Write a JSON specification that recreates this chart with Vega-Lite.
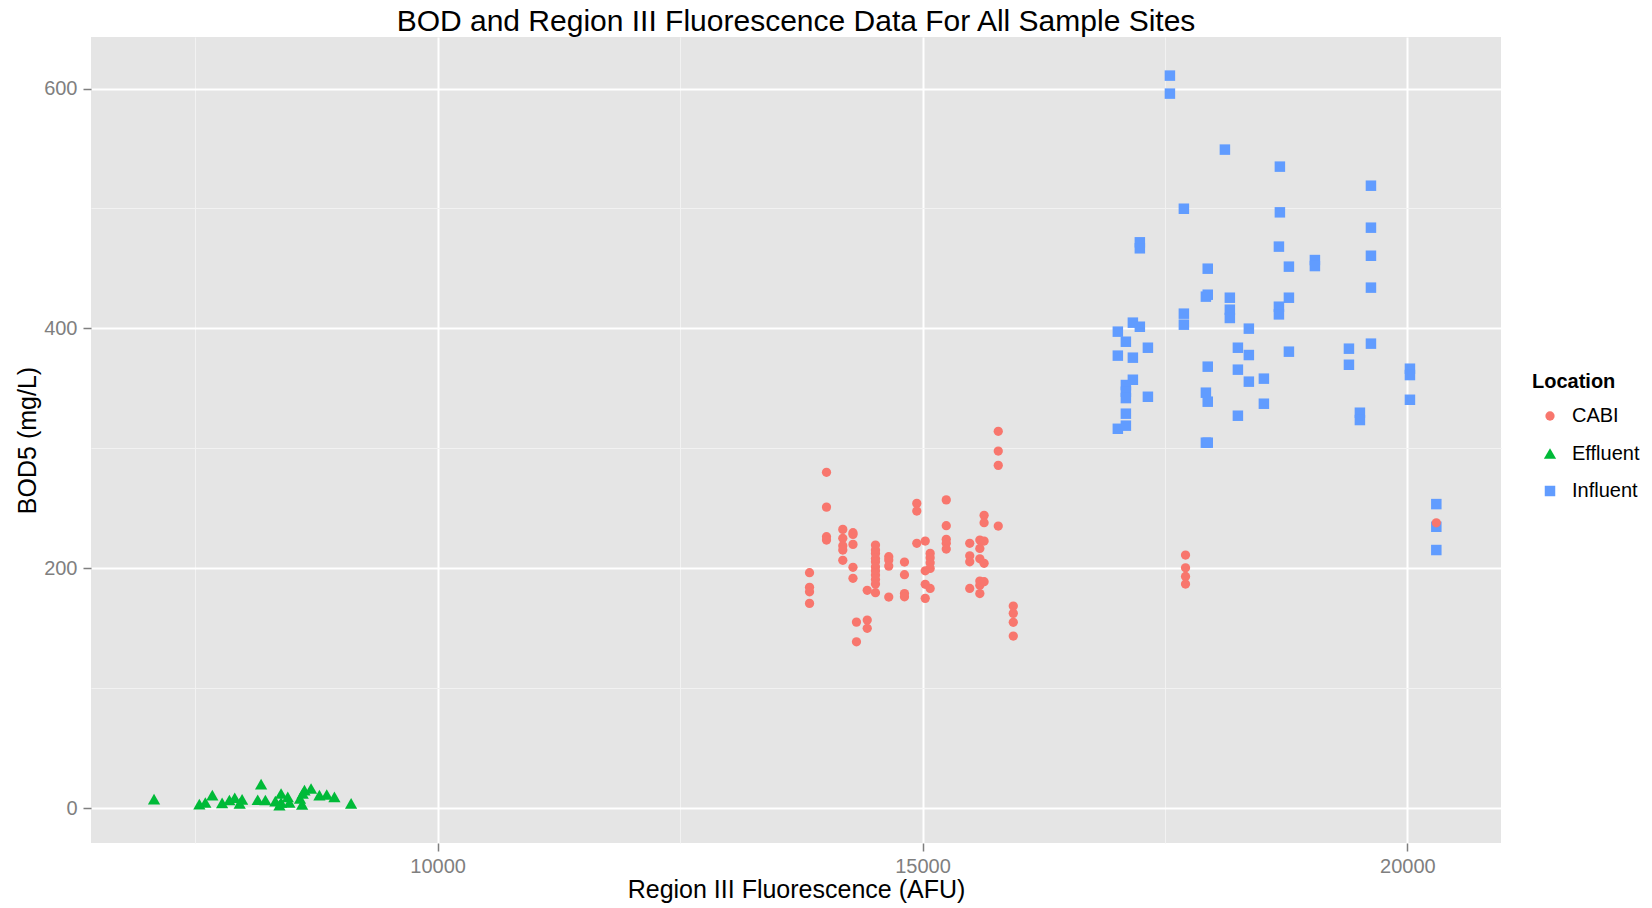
{
  "$schema": "https://vega.github.io/schema/vega-lite/v6.json",
  "autosize": {"type": "none"},
  "padding": {"left": 91, "top": 37, "right": 151, "bottom": 65},
  "width": 1410,
  "height": 806,
  "background": "white",
  "title": {
    "text": "BOD and Region III Fluorescence Data For All Sample Sites",
    "font": "Liberation Sans",
    "fontSize": 30,
    "fontWeight": "normal",
    "color": "black",
    "anchor": "middle",
    "baseline": "alphabetic",
    "offset": 4,
    "dy": 28
  },
  "config": {
    "view": {"fill": "#E5E5E5", "stroke": null},
    "font": "Liberation Sans",
    "axis": {
      "domain": false,
      "labelFont": "Liberation Sans",
      "labelFontSize": 20,
      "labelColor": "#7F7F7F",
      "tickColor": "#7F7F7F",
      "tickSize": 8,
      "tickWidth": 1.5,
      "titleFont": "Liberation Sans",
      "titleFontSize": 25,
      "titleFontWeight": "normal",
      "titleColor": "black"
    },
    "legend": {
      "titleFont": "Liberation Sans",
      "titleFontSize": 20,
      "titleFontWeight": "bold",
      "titleColor": "black",
      "labelFont": "Liberation Sans",
      "labelFontSize": 20,
      "labelColor": "black"
    }
  },
  "datasets": {
    "pts": [
      {"fluor": 17551, "bod": 610.8, "Location": "Influent"},
      {"fluor": 17551, "bod": 595.8, "Location": "Influent"},
      {"fluor": 18118, "bod": 549.1, "Location": "Influent"},
      {"fluor": 18685, "bod": 534.9, "Location": "Influent"},
      {"fluor": 19624, "bod": 519.0, "Location": "Influent"},
      {"fluor": 17695, "bod": 499.8, "Location": "Influent"},
      {"fluor": 18685, "bod": 496.8, "Location": "Influent"},
      {"fluor": 17241, "bod": 471.8, "Location": "Influent"},
      {"fluor": 17241, "bod": 466.8, "Location": "Influent"},
      {"fluor": 18675, "bod": 468.2, "Location": "Influent"},
      {"fluor": 19624, "bod": 484.0, "Location": "Influent"},
      {"fluor": 19624, "bod": 460.6, "Location": "Influent"},
      {"fluor": 18778, "bod": 451.5, "Location": "Influent"},
      {"fluor": 19046, "bod": 457.0, "Location": "Influent"},
      {"fluor": 19046, "bod": 452.0, "Location": "Influent"},
      {"fluor": 17941, "bod": 449.8, "Location": "Influent"},
      {"fluor": 19624, "bod": 434.0, "Location": "Influent"},
      {"fluor": 17922, "bod": 426.5, "Location": "Influent"},
      {"fluor": 17941, "bod": 428.1, "Location": "Influent"},
      {"fluor": 18169, "bod": 425.6, "Location": "Influent"},
      {"fluor": 18169, "bod": 415.6, "Location": "Influent"},
      {"fluor": 18169, "bod": 408.7, "Location": "Influent"},
      {"fluor": 18778, "bod": 425.6, "Location": "Influent"},
      {"fluor": 18675, "bod": 418.1, "Location": "Influent"},
      {"fluor": 18675, "bod": 411.7, "Location": "Influent"},
      {"fluor": 17695, "bod": 412.3, "Location": "Influent"},
      {"fluor": 17695, "bod": 403.1, "Location": "Influent"},
      {"fluor": 17169, "bod": 404.8, "Location": "Influent"},
      {"fluor": 17241, "bod": 401.4, "Location": "Influent"},
      {"fluor": 17014, "bod": 397.3, "Location": "Influent"},
      {"fluor": 18365, "bod": 399.8, "Location": "Influent"},
      {"fluor": 17097, "bod": 388.9, "Location": "Influent"},
      {"fluor": 17324, "bod": 383.9, "Location": "Influent"},
      {"fluor": 18252, "bod": 383.9, "Location": "Influent"},
      {"fluor": 18365, "bod": 377.8, "Location": "Influent"},
      {"fluor": 18778, "bod": 380.6, "Location": "Influent"},
      {"fluor": 19397, "bod": 383.1, "Location": "Influent"},
      {"fluor": 19624, "bod": 387.3, "Location": "Influent"},
      {"fluor": 17014, "bod": 377.3, "Location": "Influent"},
      {"fluor": 17169, "bod": 375.6, "Location": "Influent"},
      {"fluor": 17941, "bod": 368.1, "Location": "Influent"},
      {"fluor": 18252, "bod": 365.6, "Location": "Influent"},
      {"fluor": 19397, "bod": 369.7, "Location": "Influent"},
      {"fluor": 20026, "bod": 366.4, "Location": "Influent"},
      {"fluor": 20026, "bod": 361.1, "Location": "Influent"},
      {"fluor": 17169, "bod": 357.2, "Location": "Influent"},
      {"fluor": 17097, "bod": 352.8, "Location": "Influent"},
      {"fluor": 17097, "bod": 347.2, "Location": "Influent"},
      {"fluor": 17097, "bod": 341.9, "Location": "Influent"},
      {"fluor": 18365, "bod": 355.6, "Location": "Influent"},
      {"fluor": 18520, "bod": 358.1, "Location": "Influent"},
      {"fluor": 17324, "bod": 343.0, "Location": "Influent"},
      {"fluor": 17922, "bod": 346.4, "Location": "Influent"},
      {"fluor": 17941, "bod": 338.9, "Location": "Influent"},
      {"fluor": 18520, "bod": 337.2, "Location": "Influent"},
      {"fluor": 20026, "bod": 340.5, "Location": "Influent"},
      {"fluor": 17097, "bod": 328.9, "Location": "Influent"},
      {"fluor": 18252, "bod": 327.2, "Location": "Influent"},
      {"fluor": 19510, "bod": 329.7, "Location": "Influent"},
      {"fluor": 19510, "bod": 323.6, "Location": "Influent"},
      {"fluor": 17097, "bod": 318.9, "Location": "Influent"},
      {"fluor": 17014, "bod": 316.3, "Location": "Influent"},
      {"fluor": 17922, "bod": 304.7, "Location": "Influent"},
      {"fluor": 17941, "bod": 304.7, "Location": "Influent"},
      {"fluor": 20298, "bod": 253.5, "Location": "Influent"},
      {"fluor": 20298, "bod": 234.6, "Location": "Influent"},
      {"fluor": 20298, "bod": 215.2, "Location": "Influent"},
      {"fluor": 7076, "bod": 7.5, "Location": "Effluent"},
      {"fluor": 7543, "bod": 3.3, "Location": "Effluent"},
      {"fluor": 7605, "bod": 4.7, "Location": "Effluent"},
      {"fluor": 7677, "bod": 10.8, "Location": "Effluent"},
      {"fluor": 7778, "bod": 4.4, "Location": "Effluent"},
      {"fluor": 7853, "bod": 6.7, "Location": "Effluent"},
      {"fluor": 7908, "bod": 8.6, "Location": "Effluent"},
      {"fluor": 7984, "bod": 7.3, "Location": "Effluent"},
      {"fluor": 7959, "bod": 3.9, "Location": "Effluent"},
      {"fluor": 8145, "bod": 7.0, "Location": "Effluent"},
      {"fluor": 8180, "bod": 20.0, "Location": "Effluent"},
      {"fluor": 8224, "bod": 6.7, "Location": "Effluent"},
      {"fluor": 8327, "bod": 5.8, "Location": "Effluent"},
      {"fluor": 8386, "bod": 12.2, "Location": "Effluent"},
      {"fluor": 8386, "bod": 4.7, "Location": "Effluent"},
      {"fluor": 8455, "bod": 9.4, "Location": "Effluent"},
      {"fluor": 8472, "bod": 4.7, "Location": "Effluent"},
      {"fluor": 8369, "bod": 2.5, "Location": "Effluent"},
      {"fluor": 8581, "bod": 8.1, "Location": "Effluent"},
      {"fluor": 8609, "bod": 12.2, "Location": "Effluent"},
      {"fluor": 8603, "bod": 3.1, "Location": "Effluent"},
      {"fluor": 8627, "bod": 15.0, "Location": "Effluent"},
      {"fluor": 8695, "bod": 16.4, "Location": "Effluent"},
      {"fluor": 8781, "bod": 10.8, "Location": "Effluent"},
      {"fluor": 8857, "bod": 11.4, "Location": "Effluent"},
      {"fluor": 8936, "bod": 9.4, "Location": "Effluent"},
      {"fluor": 9108, "bod": 3.9, "Location": "Effluent"},
      {"fluor": 13835, "bod": 196.3, "Location": "CABI"},
      {"fluor": 13835, "bod": 184.1, "Location": "CABI"},
      {"fluor": 13835, "bod": 180.4, "Location": "CABI"},
      {"fluor": 13835, "bod": 170.7, "Location": "CABI"},
      {"fluor": 14010, "bod": 280.0, "Location": "CABI"},
      {"fluor": 14010, "bod": 251.0, "Location": "CABI"},
      {"fluor": 14010, "bod": 226.3, "Location": "CABI"},
      {"fluor": 14010, "bod": 223.5, "Location": "CABI"},
      {"fluor": 14178, "bod": 232.4, "Location": "CABI"},
      {"fluor": 14178, "bod": 225.0, "Location": "CABI"},
      {"fluor": 14178, "bod": 218.8, "Location": "CABI"},
      {"fluor": 14178, "bod": 215.2, "Location": "CABI"},
      {"fluor": 14178, "bod": 206.6, "Location": "CABI"},
      {"fluor": 14283, "bod": 229.6, "Location": "CABI"},
      {"fluor": 14283, "bod": 228.2, "Location": "CABI"},
      {"fluor": 14283, "bod": 219.9, "Location": "CABI"},
      {"fluor": 14283, "bod": 200.8, "Location": "CABI"},
      {"fluor": 14283, "bod": 191.6, "Location": "CABI"},
      {"fluor": 14319, "bod": 155.1, "Location": "CABI"},
      {"fluor": 14319, "bod": 138.7, "Location": "CABI"},
      {"fluor": 14430, "bod": 181.6, "Location": "CABI"},
      {"fluor": 14430, "bod": 156.8, "Location": "CABI"},
      {"fluor": 14430, "bod": 149.9, "Location": "CABI"},
      {"fluor": 14515, "bod": 219.3, "Location": "CABI"},
      {"fluor": 14515, "bod": 215.2, "Location": "CABI"},
      {"fluor": 14515, "bod": 212.4, "Location": "CABI"},
      {"fluor": 14515, "bod": 208.2, "Location": "CABI"},
      {"fluor": 14515, "bod": 205.4, "Location": "CABI"},
      {"fluor": 14515, "bod": 201.2, "Location": "CABI"},
      {"fluor": 14515, "bod": 197.9, "Location": "CABI"},
      {"fluor": 14515, "bod": 194.3, "Location": "CABI"},
      {"fluor": 14515, "bod": 190.7, "Location": "CABI"},
      {"fluor": 14515, "bod": 186.8, "Location": "CABI"},
      {"fluor": 14515, "bod": 179.6, "Location": "CABI"},
      {"fluor": 14652, "bod": 209.6, "Location": "CABI"},
      {"fluor": 14652, "bod": 206.8, "Location": "CABI"},
      {"fluor": 14652, "bod": 201.8, "Location": "CABI"},
      {"fluor": 14652, "bod": 176.0, "Location": "CABI"},
      {"fluor": 14814, "bod": 205.2, "Location": "CABI"},
      {"fluor": 14814, "bod": 194.6, "Location": "CABI"},
      {"fluor": 14814, "bod": 178.9, "Location": "CABI"},
      {"fluor": 14814, "bod": 176.2, "Location": "CABI"},
      {"fluor": 14941, "bod": 254.1, "Location": "CABI"},
      {"fluor": 14941, "bod": 247.7, "Location": "CABI"},
      {"fluor": 14941, "bod": 220.8, "Location": "CABI"},
      {"fluor": 15028, "bod": 222.7, "Location": "CABI"},
      {"fluor": 15028, "bod": 197.9, "Location": "CABI"},
      {"fluor": 15028, "bod": 186.6, "Location": "CABI"},
      {"fluor": 15028, "bod": 174.9, "Location": "CABI"},
      {"fluor": 15079, "bod": 212.4, "Location": "CABI"},
      {"fluor": 15079, "bod": 208.8, "Location": "CABI"},
      {"fluor": 15079, "bod": 204.6, "Location": "CABI"},
      {"fluor": 15079, "bod": 199.9, "Location": "CABI"},
      {"fluor": 15079, "bod": 183.2, "Location": "CABI"},
      {"fluor": 15245, "bod": 257.0, "Location": "CABI"},
      {"fluor": 15245, "bod": 235.5, "Location": "CABI"},
      {"fluor": 15245, "bod": 224.1, "Location": "CABI"},
      {"fluor": 15245, "bod": 220.8, "Location": "CABI"},
      {"fluor": 15245, "bod": 216.0, "Location": "CABI"},
      {"fluor": 15487, "bod": 220.8, "Location": "CABI"},
      {"fluor": 15487, "bod": 210.4, "Location": "CABI"},
      {"fluor": 15487, "bod": 205.4, "Location": "CABI"},
      {"fluor": 15487, "bod": 183.2, "Location": "CABI"},
      {"fluor": 15591, "bod": 223.5, "Location": "CABI"},
      {"fluor": 15591, "bod": 216.5, "Location": "CABI"},
      {"fluor": 15591, "bod": 207.9, "Location": "CABI"},
      {"fluor": 15591, "bod": 189.3, "Location": "CABI"},
      {"fluor": 15591, "bod": 185.9, "Location": "CABI"},
      {"fluor": 15591, "bod": 178.9, "Location": "CABI"},
      {"fluor": 15635, "bod": 244.1, "Location": "CABI"},
      {"fluor": 15635, "bod": 238.0, "Location": "CABI"},
      {"fluor": 15635, "bod": 222.7, "Location": "CABI"},
      {"fluor": 15635, "bod": 204.1, "Location": "CABI"},
      {"fluor": 15635, "bod": 188.8, "Location": "CABI"},
      {"fluor": 15781, "bod": 314.2, "Location": "CABI"},
      {"fluor": 15781, "bod": 297.7, "Location": "CABI"},
      {"fluor": 15781, "bod": 285.8, "Location": "CABI"},
      {"fluor": 15781, "bod": 235.2, "Location": "CABI"},
      {"fluor": 15936, "bod": 168.5, "Location": "CABI"},
      {"fluor": 15936, "bod": 162.4, "Location": "CABI"},
      {"fluor": 15936, "bod": 154.9, "Location": "CABI"},
      {"fluor": 15936, "bod": 143.5, "Location": "CABI"},
      {"fluor": 17712, "bod": 211.0, "Location": "CABI"},
      {"fluor": 17712, "bod": 200.4, "Location": "CABI"},
      {"fluor": 17712, "bod": 193.2, "Location": "CABI"},
      {"fluor": 17712, "bod": 186.8, "Location": "CABI"},
      {"fluor": 20298, "bod": 237.9, "Location": "CABI"}
    ]
  },
  "data": {"name": "pts"},
  "mark": {"type": "point", "filled": true, "opacity": 1},
  "encoding": {
    "x": {
      "field": "fluor",
      "type": "quantitative",
      "scale": {"domain": [6426, 20965], "nice": false, "zero": false},
      "axis": {
        "title": "Region III Fluorescence (AFU)",
        "values": [7500, 10000, 12500, 15000, 17500, 20000],
        "format": "d",
        "labelExpr": "datum.value % 5000 === 0 ? datum.label : ''",
        "labelPadding": 5,
        "gridColor": {"condition": {"test": "datum.value % 5000 !== 0", "value": "#F2F2F2"}, "value": "#FFFFFF"},
        "gridWidth": {"condition": {"test": "datum.value % 5000 !== 0", "value": 1}, "value": 2},
        "tickOpacity": {"condition": {"test": "datum.value % 5000 !== 0", "value": 0}, "value": 1},
        "titleX": 705,
        "titleY": 54,
        "titleAlign": "center",
        "titleBaseline": "alphabetic"
      }
    },
    "y": {
      "field": "bod",
      "type": "quantitative",
      "scale": {"domain": [-29.1, 643], "nice": false, "zero": false},
      "axis": {
        "title": "BOD5 (mg/L)",
        "values": [0, 100, 200, 300, 400, 500, 600],
        "labelExpr": "datum.value % 200 === 0 ? datum.label : ''",
        "labelPadding": 6,
        "gridColor": {"condition": {"test": "datum.value % 200 !== 0", "value": "#F2F2F2"}, "value": "#FFFFFF"},
        "gridWidth": {"condition": {"test": "datum.value % 200 !== 0", "value": 1}, "value": 2},
        "tickOpacity": {"condition": {"test": "datum.value % 200 !== 0", "value": 0}, "value": 1},
        "titleX": -56,
        "titleY": 403,
        "titleAngle": 270,
        "titleAlign": "center",
        "titleBaseline": "alphabetic"
      }
    },
    "color": {
      "field": "Location",
      "type": "nominal",
      "scale": {"domain": ["CABI", "Effluent", "Influent"], "range": ["#F8766D", "#00BA38", "#619CFF"]},
      "legend": {
        "title": "Location",
        "orient": "none",
        "legendX": 1441,
        "legendY": 335,
        "padding": 0,
        "titlePadding": 14,
        "rowPadding": 17.5,
        "symbolOffset": 8,
        "labelOffset": 12
      }
    },
    "shape": {
      "field": "Location",
      "type": "nominal",
      "scale": {"domain": ["CABI", "Effluent", "Influent"], "range": ["circle", "triangle-up", "square"]}
    },
    "size": {
      "field": "Location",
      "type": "nominal",
      "scale": {"type": "ordinal", "domain": ["CABI", "Effluent", "Influent"], "range": [86, 150, 110]}
    }
  }
}
